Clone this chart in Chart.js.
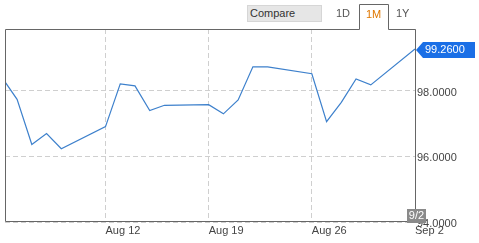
<!DOCTYPE html>
<html>
<head>
<meta charset="utf-8">
<script src="https://cdn.jsdelivr.net/npm/chart.js@4.4.0/dist/chart.umd.min.js"></script>
<style>
  body { margin: 0; background: #fff; font-family: "Liberation Sans", Arial, sans-serif; }
  #wrap { position: relative; width: 479px; height: 243px; overflow: hidden; }
  #c { position: absolute; left: 0; top: 0; }
  #compare { position: absolute; left: 247px; top: 5px; width: 75px; height: 17px; box-sizing: border-box;
    background: #e6e6e6; border: 1px solid #d6d6d6; font-size: 11px; color: #333; line-height: 15px; padding-left: 2px; }
  .rng { position: absolute; top: 7px; font-size: 11px; color: #555; }
  .rng.on { color: #e07800; top: 8px; }
</style>
</head>
<body>
<div id="wrap">
  <canvas id="c" width="479" height="243"></canvas>
  <div id="compare">Compare</div>
  <div class="rng" style="left:336px">1D</div>
  <div class="rng on" style="left:366px">1M</div>
  <div class="rng" style="left:396px">1Y</div>
</div>
<script>
// days counted from Aug 1 (Sep 2 = 33)
var days = [5, 6, 7, 8, 9, 12, 13, 14, 15, 16, 19, 20, 21, 22, 23, 26, 27, 28, 29, 30, 33];
var values = [98.38, 97.73, 96.36, 96.69, 96.23, 96.90, 98.20, 98.14, 97.39, 97.55,
              97.57, 97.29, 97.71, 98.72, 98.72, 98.51, 97.05, 97.64, 98.35, 98.17, 99.26];
var tickDays = [12, 19, 26, 33];
var tickLabels = ['Aug 12', 'Aug 19', 'Aug 26', 'Sep 2'];
var yTicks = [94, 96, 98];
var lastLabel = '9/2';

var points = [];
for (var i = 0; i < days.length; i++) {
  points.push({x: days[i], y: values[i]});
}

// frame, range tab and the last value markers
var frame = {
  id: 'frame',
  afterDraw: function(chart) {
    var ctx = chart.ctx, a = chart.chartArea;
    var l = a.left + 0.5, r = a.right + 0.5, t = a.top + 0.5, b = a.bottom - 0.5;
    var tabL = 359.5, tabR = 388.5, tabT = 4.5;
    ctx.save();
    ctx.strokeStyle = '#666';
    ctx.lineWidth = 1;
    ctx.beginPath();
    ctx.moveTo(tabL, t); ctx.lineTo(l, t); ctx.lineTo(l, b); ctx.lineTo(r, b);
    ctx.lineTo(r, t); ctx.lineTo(tabR, t); ctx.lineTo(tabR, tabT); ctx.lineTo(tabL, tabT); ctx.lineTo(tabL, t);
    ctx.stroke();

    var last = values.length - 1;
    var py = Math.round(chart.scales.y.getPixelForValue(values[last])) + 1;
    var px = Math.round(chart.scales.x.getPixelForValue(days[last]));
    // price tag
    ctx.fillStyle = '#1a6fe6';
    ctx.beginPath();
    ctx.moveTo(px + 1, py);
    ctx.lineTo(px + 8, py - 8);
    ctx.lineTo(px + 60, py - 8);
    ctx.lineTo(px + 60, py + 8);
    ctx.lineTo(px + 8, py + 8);
    ctx.closePath();
    ctx.fill();
    ctx.fillStyle = '#fff';
    ctx.font = '11px "Liberation Sans", Arial, sans-serif';
    ctx.textBaseline = 'middle';
    ctx.textAlign = 'left';
    ctx.fillText(values[last].toFixed(4), px + 10, py);
    // date box
    ctx.fillStyle = '#8a8a8a';
    ctx.fillRect(px - 8, a.bottom - 13, 19, 14);
    ctx.fillStyle = '#fff';
    ctx.textAlign = 'center';
    ctx.fillText(lastLabel, px + 1.5, a.bottom - 6);
    ctx.restore();
  }
};

var ctx = document.getElementById('c').getContext('2d');
var chart = new Chart(ctx, {
  type: 'line',
  data: {
    datasets: [{
      data: points,
      borderColor: '#3d80cc',
      borderWidth: 1.2,
      pointRadius: 0,
      tension: 0,
      fill: false
    }]
  },
  options: {
    responsive: false,
    animation: false,
    layout: { padding: { left: 5, top: 29, right: 0, bottom: 0 } },
    plugins: { legend: { display: false }, tooltip: { enabled: false } },
    scales: {
      x: {
        type: 'linear',
        min: 5.18,
        max: 33,
        afterBuildTicks: function(s) { s.ticks = tickDays.map(function(d) { return {value: d}; }); },
        afterFit: function(s) { s.height = 21; },
        grid: { color: '#cfcfcf', drawTicks: false },
        border: { display: false, dash: [5, 3] },
        ticks: {
          autoSkip: false,
          maxRotation: 0,
          align: 'start',
          padding: 2,
          color: '#444',
          font: { family: '"Liberation Sans", Arial, sans-serif', size: 11 },
          callback: function(v) { return tickLabels[tickDays.indexOf(v)]; }
        }
      },
      y: {
        position: 'right',
        min: 94,
        max: 99.87,
        afterBuildTicks: function(s) { s.ticks = yTicks.map(function(v) { return {value: v}; }); },
        afterFit: function(s) { s.width = 64; },
        grid: { color: '#cfcfcf', drawTicks: false },
        border: { display: false, dash: [5, 3] },
        ticks: {
          padding: 2,
          labelOffset: 2,
          color: '#444',
          font: { family: '"Liberation Sans", Arial, sans-serif', size: 11 },
          callback: function(v) { return Number(v).toFixed(4); }
        }
      }
    }
  },
  plugins: [frame]
});
</script>
</body>
</html>
